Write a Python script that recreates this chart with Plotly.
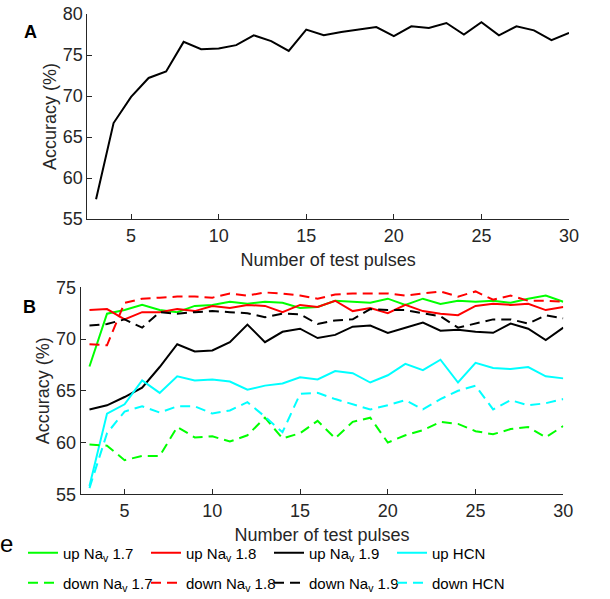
import plotly.graph_objects as go

# number of test pulses
pulses = list(range(3, 31))

# panel A - overall accuracy
acc_all = [57.4, 66.7, 69.9, 72.2, 73.0, 76.6, 75.7, 75.8, 76.2, 77.4, 76.7, 75.5, 78.1, 77.4,
           77.8, 78.1, 78.4, 77.3, 78.5, 78.3, 78.9, 77.5, 79.0, 77.4, 78.5, 78.0, 76.8, 77.7]

# panel B - per channel, up / down
up_nav17 = [67.35, 72.45, 72.8, 73.3, 72.8, 72.6, 73.2, 73.3, 73.6, 73.4, 73.6, 73.5, 73.0, 73.1,
            73.7, 73.6, 73.5, 73.9, 73.3, 73.9, 73.4, 73.7, 73.6, 73.7, 73.5, 73.9, 74.2, 73.6]
up_nav18 = [72.8, 72.9, 71.9, 72.6, 72.6, 72.9, 72.7, 73.2, 73.0, 73.3, 73.2, 72.6, 73.3, 73.1,
            73.7, 72.7, 73.0, 72.5, 73.3, 72.7, 72.45, 72.3, 73.2, 73.4, 73.3, 73.4, 72.8, 73.1]
up_nav19 = [63.2, 63.6, 64.4, 65.3, 67.3, 69.5, 68.8, 68.9, 69.7, 71.4, 69.7, 70.7, 71.0, 70.1,
            70.4, 71.2, 71.3, 70.6, 71.1, 71.6, 70.8, 70.9, 70.7, 70.6, 71.5, 71.0, 69.9, 71.1]
up_hcn = [55.8, 62.8, 63.7, 66.0, 64.8, 66.4, 66.0, 66.1, 65.9, 65.1, 65.5, 65.7, 66.3, 66.1,
          66.9, 66.7, 65.8, 66.5, 67.6, 67.0, 68.0, 65.8, 67.7, 67.2, 67.1, 67.3, 66.4, 66.2]
down_nav17 = [59.8, 59.7, 58.3, 58.7, 58.7, 61.5, 60.5, 60.6, 60.1, 60.7, 62.4, 60.4, 60.9, 62.1,
              60.4, 62.0, 62.4, 60.0, 60.7, 61.2, 62.0, 61.8, 61.1, 60.8, 61.3, 61.5, 60.5, 61.6]
down_nav18 = [69.5, 69.4, 73.5, 73.9, 74.0, 74.1, 74.1, 74.0, 74.4, 74.2, 74.5, 74.4, 74.2, 73.9,
              74.3, 74.4, 74.4, 74.4, 74.2, 74.4, 74.6, 74.1, 74.6, 73.8, 74.2, 73.7, 73.7, 73.6]
down_nav19 = [71.3, 71.45, 71.9, 71.1, 72.6, 72.45, 72.6, 72.7, 72.6, 72.5, 72.1, 72.45, 72.4, 71.45,
              71.8, 71.9, 72.9, 72.8, 72.8, 72.5, 72.2, 71.1, 71.5, 71.9, 71.9, 71.5, 72.3, 72.0]
down_hcn = [55.6, 60.9, 63.0, 63.5, 62.9, 63.5, 63.5, 62.8, 63.1, 63.9, 62.5, 61.0, 64.7, 64.8,
            64.2, 63.7, 63.2, 63.6, 64.1, 63.2, 64.2, 65.0, 65.5, 63.2, 64.1, 63.6, 63.8, 64.2]

W, H = 610, 599
FONT = "Liberation Sans, Arial, Helvetica, sans-serif"
AXC = "#262626"
DASH = "10px,6px"

fig = go.Figure()

# panel A
fig.add_trace(go.Scatter(x=pulses, y=acc_all, mode="lines", line=dict(color="black", width=2),
                         showlegend=False, xaxis="x", yaxis="y"))

# panel B - solid "up" lines go into the first legend row, dashed "down" into the second
series = [
    ("up Na<sub>v</sub> 1.7", up_nav17, "#00ff00", "solid", "legend"),
    ("up Na<sub>v</sub> 1.8", up_nav18, "#ff0000", "solid", "legend"),
    ("up Na<sub>v</sub> 1.9", up_nav19, "#000000", "solid", "legend"),
    ("up HCN", up_hcn, "#00ffff", "solid", "legend"),
    ("down Na<sub>v</sub> 1.7", down_nav17, "#00ff00", DASH, "legend2"),
    ("down Na<sub>v</sub> 1.8", down_nav18, "#ff0000", DASH, "legend2"),
    ("down Na<sub>v</sub> 1.9", down_nav19, "#000000", DASH, "legend2"),
    ("down HCN", down_hcn, "#00ffff", DASH, "legend2"),
]
for name, vals, col, dash, lg in series:
    fig.add_trace(go.Scatter(x=pulses, y=vals, mode="lines", name=name,
                             line=dict(color=col, width=2, dash=dash),
                             legend=lg, xaxis="x2", yaxis="y2"))

axis_style = dict(showline=True, linecolor=AXC, linewidth=1, ticks="inside", ticklen=5,
                  tickcolor=AXC, showgrid=False, zeroline=False, mirror=False, automargin=False,
                  tickfont=dict(family=FONT, size=18, color=AXC),
                  title_font=dict(family=FONT, size=18, color=AXC))

leg_style = dict(orientation="h", x=23 / W, xanchor="left", yanchor="middle",
                 entrywidth=78, entrywidthmode="pixels", bgcolor="rgba(0,0,0,0)",
                 font=dict(family=FONT, size=15, color="black"))

fig.update_layout(
    width=W, height=H,
    margin=dict(l=0, r=0, t=0, b=0, autoexpand=False),
    paper_bgcolor="white", plot_bgcolor="white",
    font=dict(family=FONT, size=18, color=AXC),
    xaxis=dict(axis_style, domain=[87.3 / W, 569 / W], range=[2.5, 30], tickvals=[5, 10, 15, 20, 25, 30],
               anchor="y", title=dict(text="Number of test pulses", standoff=8)),
    yaxis=dict(axis_style, domain=[1 - 219 / H, 1 - 14 / H], range=[55, 80], tickvals=[55, 60, 65, 70, 75, 80],
               anchor="x", title=dict(text="Accuracy (%)", standoff=1)),
    xaxis2=dict(axis_style, domain=[80.7 / W, 563.3 / W], range=[2.5, 30], tickvals=[5, 10, 15, 20, 25, 30],
                anchor="y2", title=dict(text="Number of test pulses", standoff=8)),
    yaxis2=dict(axis_style, domain=[1 - 494.3 / H, 1 - 287.3 / H], range=[55, 75], tickvals=[55, 60, 65, 70, 75],
                anchor="x2", title=dict(text="Accuracy (%)", standoff=1)),
    legend=dict(leg_style, y=1 - 553 / H),
    legend2=dict(leg_style, y=1 - 583 / H),
)

# panel letters and the clipped letter at the left edge
note = dict(xref="paper", yref="paper", showarrow=False, xanchor="center", yanchor="middle")
fig.add_annotation(note, text="<b>A</b>", x=30 / W, y=1 - 31.5 / H,
                   font=dict(family=FONT, size=18, color="black"))
fig.add_annotation(note, text="<b>B</b>", x=29 / W, y=1 - 307.5 / H,
                   font=dict(family=FONT, size=18, color="black"))
fig.add_annotation(note, text="e", x=6 / W, y=1 - 543 / H,
                   font=dict(family=FONT, size=24, color="black"))

# drop the browser's default body margin so the figure sits at the page corner
fig.write_html("out.html", config={"displayModeBar": False},
               post_script="document.body.style.margin='0';document.body.style.overflow='hidden';")
